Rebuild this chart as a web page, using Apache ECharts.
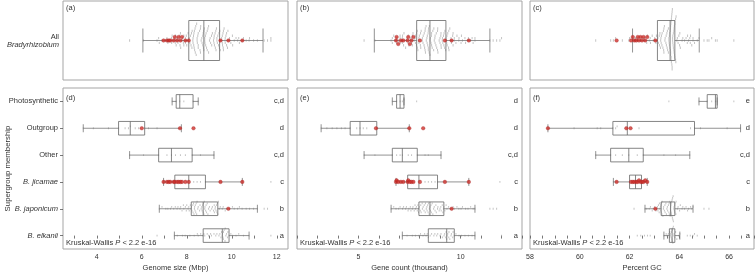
<!DOCTYPE html>
<html lang="en">
<head>
<meta charset="UTF-8">
<title>Bradyrhizobium supergroups</title>
<script src="https://cdn.jsdelivr.net/npm/echarts@6/dist/echarts.min.js"></script>
<style>html,body{margin:0;padding:0;background:#fff}</style>
</head>
<body>
<div id="main" style="width:755px;height:272px;"></div>
<script type="text/javascript">
// rows, bottom to top
var groups = ['B. elkanii', 'B. japonicum', 'B. jicamae', 'Other', 'Outgroup', 'Photosynthetic'];
var italicRow = [true, true, true, false, false, false];

// letters shown at the right of each lower panel
var genomeLetters = ['a', 'b', 'c', 'c,d', 'd', 'c,d'];
var geneLetters = ['a', 'b', 'c', 'c,d', 'd', 'd'];
var gcLetters = ['a', 'b', 'c', 'c,d', 'd', 'e'];

// box stats [min, Q1, median, Q3, max]
var genomeAllBox = [6.05, 8.09, 8.76, 9.46, 11.39];
var geneAllBox = [5.78, 7.85, 8.50, 9.28, 11.43];
var gcAllBox = [62.12, 63.12, 63.63, 63.82, 64.80];

var genomeBox = [
  [7.45, 8.73, 9.58, 9.88, 10.77],
  [6.78, 8.20, 8.73, 9.38, 11.14],
  [6.97, 7.47, 8.09, 8.83, 10.47],
  [5.46, 6.75, 7.32, 8.24, 9.21],
  [3.40, 4.97, 5.49, 6.13, 7.76],
  [7.35, 7.53, 7.69, 8.28, 8.51]
];
var geneBox = [
  [7.15, 8.42, 9.32, 9.69, 10.70],
  [6.60, 7.96, 8.50, 9.18, 10.70],
  [6.84, 7.41, 7.96, 8.87, 10.40],
  [5.28, 6.66, 7.15, 7.88, 9.04],
  [3.18, 4.60, 5.08, 5.90, 7.49],
  [6.66, 6.87, 7.04, 7.23, 7.23]
];
var gcBox = [
  [63.38, 63.60, 63.71, 63.82, 64.02],
  [62.62, 63.27, 63.65, 63.82, 64.55],
  [61.35, 62.00, 62.24, 62.48, 62.71],
  [60.64, 61.24, 61.97, 62.55, 64.42],
  [58.72, 61.33, 61.91, 64.61, 66.46],
  [64.79, 65.12, 65.45, 65.52, 65.52]
];

// genomes (grey) per row
var genomeGray = [
  [6.68, 7.45, 7.58, 7.81, 7.93, 8.14, 8.33, 8.47, 8.51, 8.62, 8.71, 8.76, 8.8, 8.91, 8.97, 9.06, 9.1, 9.21, 9.29, 9.34, 9.43, 9.47, 9.52, 9.55, 9.58, 9.59, 9.61, 9.63, 9.63, 9.66, 9.7, 9.71, 9.74, 9.77, 9.81, 9.83, 9.88, 9.96, 10.04, 10.19, 10.31, 10.52, 10.77, 11.74],
  [6.78, 6.9, 7.07, 7.16, 7.28, 7.33, 7.42, 7.49, 7.57, 7.61, 7.7, 7.73, 7.79, 7.85, 7.87, 7.94, 7.98, 8.0, 8.06, 8.09, 8.11, 8.16, 8.19, 8.21, 8.23, 8.27, 8.28, 8.3, 8.32, 8.34, 8.35, 8.37, 8.38, 8.4, 8.42, 8.44, 8.46, 8.49, 8.51, 8.57, 8.59, 8.64, 8.67, 8.68, 8.71, 8.73, 8.74, 8.76, 8.78, 8.8, 8.81, 8.84, 8.86, 8.88, 8.91, 8.94, 8.97, 9.01, 9.04, 9.11, 9.14, 9.19, 9.22, 9.23, 9.26, 9.27, 9.3, 9.32, 9.34, 9.36, 9.38, 9.41, 9.45, 9.49, 9.58, 9.62, 9.71, 9.77, 9.9, 10.03, 10.11, 10.26, 10.34, 10.46, 10.64, 10.79, 10.97, 11.14, 11.44, 11.59],
  [8.31, 8.46, 8.61, 8.83, 11.74],
  [5.46, 6.08, 6.75, 7.12, 7.32, 7.5, 7.72, 7.94, 8.24, 8.61, 9.21],
  [3.4, 3.85, 4.52, 4.97, 5.26, 5.41, 5.49, 5.71, 5.86, 6.13, 6.3, 6.68],
  [7.35, 7.53, 7.69, 7.87, 8.28, 8.51]
];
var geneGray = [
  [7.15, 7.38, 7.64, 7.79, 7.96, 8.04, 8.16, 8.24, 8.31, 8.37, 8.42, 8.51, 8.58, 8.69, 8.74, 8.83, 8.88, 8.99, 9.04, 9.11, 9.19, 9.22, 9.27, 9.29, 9.32, 9.34, 9.37, 9.42, 9.43, 9.47, 9.53, 9.55, 9.61, 9.63, 9.69, 9.77, 9.92, 10.04, 10.21, 10.38, 10.56, 10.7, 12.0],
  [6.6, 6.73, 6.84, 6.97, 7.04, 7.16, 7.21, 7.31, 7.35, 7.43, 7.47, 7.54, 7.57, 7.64, 7.67, 7.73, 7.77, 7.79, 7.84, 7.88, 7.91, 7.94, 7.96, 7.98, 8.03, 8.05, 8.07, 8.12, 8.13, 8.17, 8.21, 8.22, 8.27, 8.28, 8.32, 8.35, 8.36, 8.39, 8.41, 8.43, 8.46, 8.47, 8.5, 8.52, 8.55, 8.57, 8.61, 8.64, 8.68, 8.71, 8.75, 8.79, 8.81, 8.87, 8.89, 8.95, 8.99, 9.03, 9.05, 9.1, 9.13, 9.16, 9.18, 9.23, 9.29, 9.33, 9.41, 9.52, 9.63, 9.69, 9.82, 9.91, 10.02, 10.09, 10.24, 10.36, 10.49, 10.61, 10.7, 11.43, 11.59, 11.76],
  [8.26, 8.42, 8.58, 8.75, 8.87, 11.92],
  [5.28, 5.81, 6.66, 6.87, 7.04, 7.15, 7.44, 7.6, 7.88, 8.26, 8.42, 9.04],
  [3.18, 3.46, 3.72, 3.95, 4.17, 4.35, 4.6, 4.92, 5.08, 5.24, 5.41, 5.9],
  [6.66, 6.87, 7.04, 7.15, 7.23, 7.85]
];
var gcGray = [
  [62.31, 62.45, 62.6, 62.72, 62.83, 63.38, 63.47, 63.51, 63.56, 63.6, 63.61, 63.64, 63.65, 63.67, 63.68, 63.7, 63.71, 63.71, 63.73, 63.74, 63.76, 63.78, 63.79, 63.82, 63.85, 63.9, 63.98, 64.02, 64.32, 64.44, 64.55, 64.61, 64.72],
  [62.18, 62.62, 62.69, 62.79, 62.84, 62.91, 62.95, 63.01, 63.06, 63.08, 63.12, 63.14, 63.16, 63.19, 63.2, 63.22, 63.24, 63.25, 63.26, 63.27, 63.28, 63.3, 63.31, 63.34, 63.36, 63.37, 63.4, 63.42, 63.43, 63.46, 63.48, 63.5, 63.52, 63.53, 63.56, 63.58, 63.59, 63.6, 63.62, 63.63, 63.64, 63.65, 63.65, 63.66, 63.67, 63.67, 63.68, 63.69, 63.7, 63.71, 63.72, 63.73, 63.74, 63.75, 63.76, 63.78, 63.79, 63.8, 63.81, 63.82, 63.82, 63.86, 63.87, 63.92, 63.95, 64.01, 64.04, 64.11, 64.14, 64.21, 64.27, 64.33, 64.37, 64.45, 64.5, 64.55, 64.99, 65.19],
  [61.35, 62.0, 62.24],
  [60.64, 61.24, 61.44, 61.71, 61.97, 62.31, 62.55, 63.38, 63.85, 64.42],
  [59.77, 60.7, 60.84, 61.33, 61.44, 61.5, 61.91, 62.38, 64.45, 64.61, 64.85, 65.92, 66.46],
  [63.58, 64.79, 65.12, 65.3, 65.45, 65.52, 66.19]
];

// highlighted strains (red)
var genomeRed = [[], [9.85], [6.97, 7.12, 7.2, 7.27, 7.42, 7.47, 7.57, 7.64, 7.72, 7.79, 7.94, 8.09, 9.5, 10.47], [], [6.0, 7.7, 8.3], []];
var geneRed = [[], [9.56], [6.84, 6.87, 6.95, 7.08, 7.2, 7.41, 7.44, 7.52, 7.6, 7.69, 8.01, 9.23, 10.4], [], [5.86, 7.49, 8.17], []];
var gcRed = [[], [63.04], [61.48, 62.06, 62.13, 62.19, 62.27, 62.33, 62.38, 62.44, 62.5, 62.56, 62.63, 62.71], [], [58.72, 61.87, 62.04], []];

// axis ticks / labels
var genomeTicks = [3, 4, 5, 6, 7, 8, 9, 10, 11, 12];
var genomeLabels = [4, 6, 8, 10, 12];
var geneTicks = [2, 3, 4, 5, 6, 7, 8, 9, 10, 11, 12, 13];
var geneLabels = [5, 10];
var gcTicks = [58, 58.5, 59, 59.5, 60, 60.5, 61, 61.5, 62, 62.5, 63, 63.5, 64, 64.5, 65, 65.5, 66, 66.5, 67];
var gcLabels = [58, 60, 62, 64, 66];

var metrics = [
  {name: 'Genome size (Mbp)', min: 2.5, max: 12.5, ticks: genomeTicks, labels: genomeLabels,
   box: genomeBox, all: genomeAllBox, gray: genomeGray, red: genomeRed, letters: genomeLetters},
  {name: 'Gene count (thousand)', min: 2, max: 13, ticks: geneTicks, labels: geneLabels,
   box: geneBox, all: geneAllBox, gray: geneGray, red: geneRed, letters: geneLetters},
  {name: 'Percent GC', min: 58, max: 67, ticks: gcTicks, labels: gcLabels,
   box: gcBox, all: gcAllBox, gray: gcGray, red: gcRed, letters: gcLetters}
];

var grids = [
  {left: 63, top: 1, width: 225, height: 79},
  {left: 297, top: 1, width: 225, height: 79},
  {left: 530, top: 1, width: 224, height: 79},
  {left: 63, top: 88, width: 225, height: 161},
  {left: 297, top: 88, width: 225, height: 161},
  {left: 530, top: 88, width: 224, height: 161}
];

var FONT = '"Liberation Sans", Arial, sans-serif';
var TXT = '#333';
var GREY = 'rgba(150,150,150,0.7)';

// column beeswarm: points falling in the same w-px column are stacked up/down
function swarm(vals, pxX, pxY, w, ty) {
  var order = vals.map(function (v, i) { return i; }).sort(function (a, b) { return vals[a] - vals[b]; });
  var cols = {};
  var off = [];
  order.forEach(function (i) {
    var c = Math.round(vals[i] * pxX / w);
    var n = cols[c] || 0;
    cols[c] = n + 1;
    off[i] = (n % 2 ? 1 : -1) * Math.ceil(n / 2) * ty / pxY;
  });
  return off;
}

function points(rows, rowIdx, pxX, pxY, w, ty) {
  var data = [];
  rows.forEach(function (vals, r) {
    var off = swarm(vals, pxX, pxY, w, ty);
    vals.forEach(function (v, i) { data.push([v, rowIdx[r] + off[i]]); });
  });
  return data;
}

function boxRender(half, capHalf) {
  return function (params, api) {
    var r = api.value(0);
    var p = [1, 2, 3, 4, 5].map(function (k) { return api.coord([api.value(k), r]); });
    var up = api.coord([api.value(1), r + half])[1];
    var dn = api.coord([api.value(1), r - half])[1];
    var cu = api.coord([api.value(1), r + capHalf])[1];
    var cd = api.coord([api.value(1), r - capHalf])[1];
    var yc = p[0][1];
    var ls = {stroke: '#666', lineWidth: 0.8, fill: null};
    var ws = {stroke: '#777', lineWidth: 0.8, fill: null};
    return {type: 'group', children: [
      {type: 'line', shape: {x1: p[0][0], y1: yc, x2: p[1][0], y2: yc}, style: ws},
      {type: 'line', shape: {x1: p[3][0], y1: yc, x2: p[4][0], y2: yc}, style: ws},
      {type: 'line', shape: {x1: p[0][0], y1: cu, x2: p[0][0], y2: cd}, style: ws},
      {type: 'line', shape: {x1: p[4][0], y1: cu, x2: p[4][0], y2: cd}, style: ws},
      {type: 'rect', shape: {x: p[1][0], y: up, width: p[3][0] - p[1][0], height: dn - up}, style: ls},
      {type: 'line', shape: {x1: p[2][0], y1: up, x2: p[2][0], y2: dn}, style: ls}
    ]};
  };
}

var xAxis = [], yAxis = [], series = [];
var rowIdx = [0, 1, 2, 3, 4, 5];

metrics.forEach(function (m, i) {
  var gTop = grids[i], gBot = grids[i + 3];
  var pxX = gTop.width / (m.max - m.min);
  var pxYTop = gTop.height / 2;
  var pxYBot = gBot.height / 6;

  // top panel axes
  xAxis[i] = {type: 'value', gridIndex: i, min: m.min, max: m.max,
    axisLine: {show: false}, axisTick: {show: false}, axisLabel: {show: false}, splitLine: {show: false}};
  yAxis[i] = {type: 'value', gridIndex: i, min: -1, max: 1,
    axisLine: {show: false}, axisTick: {show: false}, splitLine: {show: false},
    axisLabel: {show: i === 0, customValues: [0], margin: 4,
      formatter: function () { return '{n|All}\n{i|Bradyrhizobium}'; },
      rich: {n: {fontSize: 7.5, color: TXT, align: 'right', fontFamily: FONT},
             i: {fontSize: 7.5, color: TXT, align: 'right', fontStyle: 'italic', fontFamily: FONT}}}};

  // bottom panel axes
  xAxis[i + 3] = {type: 'value', gridIndex: i + 3, min: m.min, max: m.max,
    axisLine: {show: false}, splitLine: {show: false},
    axisTick: {show: true, length: 3, customValues: m.ticks, lineStyle: {color: '#555', width: 0.8}},
    axisLabel: {customValues: m.labels, fontSize: 7, color: TXT, margin: 5},
    name: m.name, nameLocation: 'middle', nameGap: 15, nameMoveOverlap: false,
    nameTextStyle: {fontSize: 7.5, color: TXT}};
  yAxis[i + 3] = {type: 'value', gridIndex: i + 3, min: -0.5, max: 5.5,
    axisLine: {show: false}, splitLine: {show: false},
    axisTick: {show: i === 0, length: 3, customValues: rowIdx, lineStyle: {color: '#555', width: 0.8}},
    axisLabel: {show: i === 0, customValues: rowIdx, fontSize: 7.5, color: TXT, margin: 5,
      formatter: function (v) { var r = Math.round(v); return italicRow[r] ? '{i|' + groups[r] + '}' : groups[r]; },
      rich: {i: {fontSize: 7.5, color: TXT, fontStyle: 'italic', fontFamily: FONT}}},
    name: i === 0 ? 'Supergroup membership' : '', nameLocation: 'middle', nameGap: 51, nameMoveOverlap: false,
    nameTextStyle: {fontSize: 7.8, color: TXT}};
  // letters on the right
  yAxis[i + 6] = {type: 'value', gridIndex: i + 3, min: -0.5, max: 5.5, position: 'right',
    axisLine: {show: false}, axisTick: {show: false}, splitLine: {show: false},
    axisLabel: {inside: true, customValues: rowIdx, fontSize: 7.5, color: TXT, margin: 4,
      formatter: function (v) { return m.letters[Math.round(v)]; }}};

  // top panel: all Bradyrhizobium (every row except the outgroup)
  var topGray = [], topRed = [];
  m.gray.forEach(function (v, r) { if (r !== 4) topGray = topGray.concat(v); });
  m.red.forEach(function (v, r) { if (r !== 4) topRed = topRed.concat(v); });

  series.push({type: 'scatter', xAxisIndex: i, yAxisIndex: i, symbol: 'rect', symbolSize: [1, 2.4], z: 2, silent: true,
    itemStyle: {color: GREY},
    data: points([topGray], [0], pxX, pxYTop, 4, 2.4)});
  series.push({type: 'custom', xAxisIndex: i, yAxisIndex: i, z: 3, silent: true,
    renderItem: boxRender(20 / pxYTop, 12 / pxYTop), encode: {x: [1, 2, 3, 4, 5], y: 0},
    data: [[0].concat(m.all)]});
  series.push({type: 'scatter', xAxisIndex: i, yAxisIndex: i, symbolSize: 3.6, z: 4, silent: true,
    itemStyle: {color: '#d0302b', borderColor: '#a01e1e', borderWidth: 0.4},
    data: points([topRed], [0], pxX, pxYTop, 3, 3.5)});

  // bottom panel
  series.push({type: 'scatter', xAxisIndex: i + 3, yAxisIndex: i + 3, symbol: 'rect', symbolSize: [1, 1.8], z: 2, silent: true,
    itemStyle: {color: GREY},
    data: points(m.gray, rowIdx, pxX, pxYBot, 3.5, 1.8)});
  series.push({type: 'custom', xAxisIndex: i + 3, yAxisIndex: i + 3, z: 3, silent: true,
    renderItem: boxRender(6.8 / pxYBot, 4 / pxYBot), encode: {x: [1, 2, 3, 4, 5], y: 0},
    data: m.box.map(function (b, r) { return [r].concat(b); })});
  series.push({type: 'scatter', xAxisIndex: i + 3, yAxisIndex: i + 3, symbolSize: 3.6, z: 4, silent: true,
    itemStyle: {color: '#d0302b', borderColor: '#a01e1e', borderWidth: 0.4},
    data: points(m.red, rowIdx, pxX, pxYBot, 2, 1.5)});
});

var tags = ['(a)', '(b)', '(c)', '(d)', '(e)', '(f)'];
var graphic = [];
grids.forEach(function (g, i) {
  graphic.push({type: 'text', left: g.left + 3, top: g.top + (i < 3 ? 3 : 6),
    style: {text: tags[i], fontSize: 7.5, fill: TXT, fontFamily: FONT}});
  if (i >= 3) {
    graphic.push({type: 'text', left: g.left + 3, top: g.top + g.height - 10,
      style: {text: 'Kruskal-Wallis {i|P} < 2.2 e-16', fontSize: 7.5, fill: TXT, fontFamily: FONT,
        rich: {i: {fontStyle: 'italic', fontSize: 7.5, fontFamily: FONT, fill: TXT}}}});
  }
});

var myChart = echarts.init(document.getElementById('main'));
myChart.setOption({
  animation: false,
  textStyle: {fontFamily: FONT},
  grid: grids.map(function (g) {
    return Object.assign({show: true, borderColor: '#a5a5a5', borderWidth: 1,
      backgroundColor: 'transparent', outerBoundsMode: 'none'}, g);
  }),
  xAxis: xAxis,
  yAxis: yAxis,
  series: series,
  graphic: graphic
});
</script>
</body>
</html>
